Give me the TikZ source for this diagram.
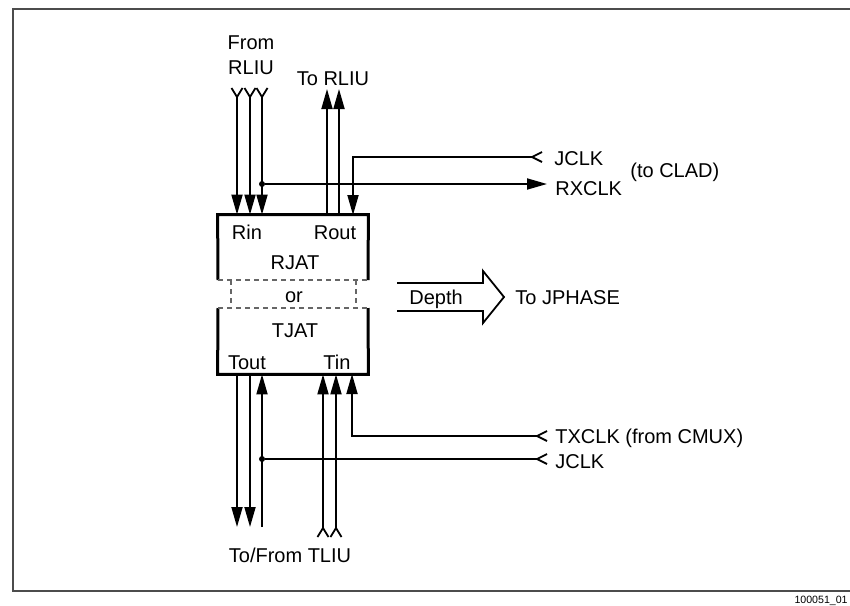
\documentclass[tikz,border=0pt]{standalone}
\usepackage{fontspec}
\setmainfont{Liberation Sans}
\usetikzlibrary{arrows.meta,positioning}

\begin{document}
\begin{tikzpicture}[
    x=0.5pt, y=-0.5pt,
    font=\fontsize{10}{12}\selectfont,
    txt/.style={inner sep=0pt, text height=7.2pt, text depth=0pt},
    lbl/.style={txt, anchor=west},
    line/.style={line width=0.9pt},
    sig/.style={line, -{Triangle[length=10pt, width=5.5pt]}},
    boxline/.style={line width=1.5pt},
    dashline/.style={line width=0.8pt, black!60, dash pattern=on 2.5pt off 2pt},
    dotjoin/.style={circle, fill, inner sep=0pt, minimum size=3pt}
]
\useasboundingbox (0,0) rectangle (850,605);
% frame
\draw[line width=1.2pt, black!70] (850,9) -- (13,9) -- (13,591) -- (850,591);
\node[inner sep=0pt, anchor=east, font=\fontsize{5.3}{6}\selectfont] (figid) at (848,601) {100051\_01};

% RJAT / TJAT block
\node[minimum width=75pt, minimum height=79.5pt, inner sep=0pt] (jat) at (293,294.5) {};
\draw[boxline] (218,280) -- (jat.north west) -- (jat.north east) -- (368,280);
\draw[boxline] (218,308) -- (jat.south west) -- (jat.south east) -- (368,308);
\draw[dashline] (218,280) -- (368,280) (218,308) -- (368,308)
    (231,280) -- (231,308) (356,280) -- (356,308);
\node[txt] (rin) at (247,232) {Rin};
\node[txt] (rout) at (335,232) {Rout};
\node[txt] (rjat) at (295,262) {RJAT};
\node[txt] (or) at (294,295) {or};
\node[txt] (tjat) at (295,330) {TJAT};
\node[txt] (tout) at (247,362) {Tout};
\node[txt] (tin) at (337,362) {Tin};

% receive side
\node[txt] (from) at (251,42) {From};
\node[txt] (rliuin) at (251,67) {RLIU};
\node[txt] (rliuout) at (333,78) {To RLIU};
\coordinate (ri1) at (237,97);
\coordinate (ri2) at (250,97);
\coordinate (ri3) at (262,97);
\foreach \c in {ri1,ri2,ri3} {
    \draw[line] (\c) ++(-5.5,-9) -- (\c) -- ++(5.5,-9);
    \draw[sig] (\c) -- (\c |- jat.north);
}
\coordinate (ro1) at (327,89);
\coordinate (ro2) at (339,89);
\draw[sig] (ro1 |- jat.north) -- (ro1);
\draw[sig] (ro2 |- jat.north) -- (ro2);

\coordinate (jin) at (532,157);
\coordinate (rjclk) at (353,215);
\node[lbl] (jclk) at (554,158) {JCLK};
\draw[line] (jin) ++(10,-5) -- (jin) -- ++(10,5);
\draw[sig] (jin) -| (rjclk);
\node[dotjoin] (rdot) at (262,184) {};
\coordinate (rxout) at (547,184);
\node[lbl] (rxclk) at (555,188) {RXCLK};
\node[lbl] (clad) at (630,170) {(to CLAD)};
\draw[sig] (rdot) -- (rxout);

% depth output
\draw[line] (397,283) -- (483,283) -- (483,271) -- (504,297) -- (483,323) -- (483,311) -- (397,311);
\node[txt] (depth) at (436,297) {Depth};
\node[lbl] (jphase) at (515,297) {To JPHASE};

% transmit side
\coordinate (to1) at (237,527);
\coordinate (to2) at (250,527);
\coordinate (to3) at (262,527);
\draw[sig] (to1 |- jat.south) -- (to1);
\draw[sig] (to2 |- jat.south) -- (to2);
\draw[sig] (to3) -- (to3 |- jat.south);
\coordinate (ti1) at (323,528);
\coordinate (ti2) at (336,528);
\foreach \c in {ti1,ti2} {
    \draw[line] (\c) ++(-5.5,9) -- (\c) -- ++(5.5,9);
    \draw[sig] (\c) -- (\c |- jat.south);
}
\coordinate (txin) at (537,436);
\coordinate (tjclk) at (352,374);
\node[lbl] (txclk) at (555,436) {TXCLK (from CMUX)};
\draw[line] (txin) ++(10,-5) -- (txin) -- ++(10,5);
\draw[sig] (txin) -| (tjclk);
\coordinate (jin2) at (537,459);
\node[dotjoin] (tdot) at (262,459) {};
\node[lbl] (jclk2) at (555,461) {JCLK};
\draw[line] (jin2) ++(10,-5) -- (jin2) -- ++(10,5);
\draw[line] (jin2) -- (tdot);
\node[txt] (tliu) at (290,555) {To/From TLIU};
\end{tikzpicture}
\end{document}
